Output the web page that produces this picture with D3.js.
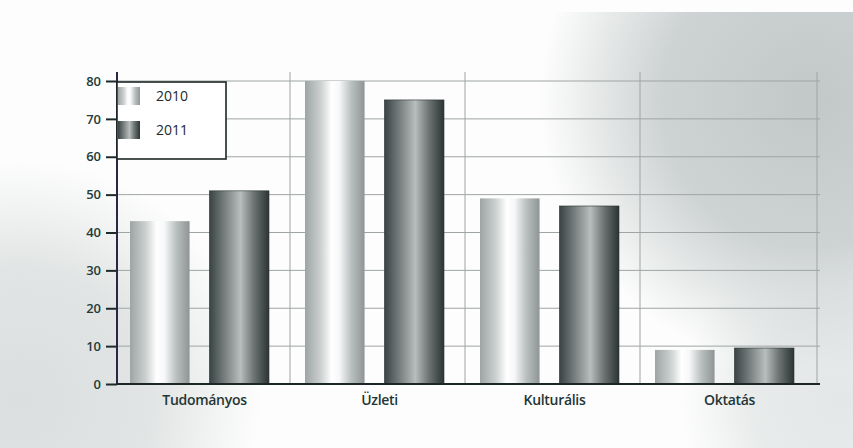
<!DOCTYPE html>
<html>
<head>
<meta charset="utf-8">
<script src="https://cdn.jsdelivr.net/npm/d3@7"></script>
<style>
  body { margin: 0; background: #fff; }
  svg { display: block; }
</style>
</head>
<body>
<div id="chart"></div>
<script>
// survey-style grouped bars, 2010 vs 2011

var categories = ["Tudományos", "Üzleti", "Kulturális", "Oktatás"];
var years = ["2010", "2011"];
var values2010 = [43, 80, 49, 9];
var values2011 = [51, 75, 47, 9.5];
var yTicks = [0, 10, 20, 30, 40, 50, 60, 70, 80];

var W = 853, H = 448;
// plot edges (note: "top" is taken by window.top)
var pLeft = 117, pRight = 817, pTop = 81, pBottom = 384;

var svg = d3.select("#chart").append("svg")
  .attr("width", W).attr("height", H);

var defs = svg.append("defs");

// scanned page: grey smudges top-right and bottom-left
function blob(id, cx, cy, r, col, op) {
  var g = defs.append("radialGradient").attr("id", id)
    .attr("gradientUnits", "userSpaceOnUse")
    .attr("cx", cx).attr("cy", cy).attr("r", r);
  g.append("stop").attr("offset", "0").attr("stop-color", col).attr("stop-opacity", op);
  g.append("stop").attr("offset", "0.55").attr("stop-color", col).attr("stop-opacity", op * 0.8);
  g.append("stop").attr("offset", "1").attr("stop-color", col).attr("stop-opacity", 0);
}
blob("b1", 810, 100, 270, "#bfc5c5", 0.95);
blob("b2", 20, 400, 240, "#d3d7d7", 0.8);
blob("b3", 840, 400, 160, "#d3d8d8", 0.6);

svg.append("rect").attr("width", W).attr("height", H).attr("fill", "#fdfdfd");
svg.append("rect").attr("y", 12).attr("width", W).attr("height", H - 12).attr("fill", "url(#b1)");
svg.append("rect").attr("width", W).attr("height", H).attr("fill", "url(#b2)");
svg.append("rect").attr("width", W).attr("height", H).attr("fill", "url(#b3)");

// cylinder shading for bars
function cylinder(id, stops) {
  var g = defs.append("linearGradient").attr("id", id)
    .attr("x1", "0").attr("x2", "1").attr("y1", "0").attr("y2", "0");
  stops.forEach(function(s) {
    g.append("stop").attr("offset", s[0]).attr("stop-color", s[1]);
  });
}
cylinder("g2010", [[0, "#9ea4a4"], [0.25, "#c9cdcd"], [0.45, "#ffffff"], [0.58, "#f6f7f7"], [0.78, "#b9bebe"], [1, "#8f9595"]]);
cylinder("g2011", [[0, "#3a4343"], [0.22, "#6e7676"], [0.52, "#b8bdbd"], [0.75, "#6a7272"], [1, "#2c3333"]]);

var colorOf = { "2010": "url(#g2010)", "2011": "url(#g2011)" };

var y = d3.scaleLinear().domain([0, 80]).range([pBottom, pTop]);

var x0 = d3.scaleBand().domain(categories).range([pLeft, pRight]).padding(0);
var x1 = d3.scaleBand().domain(years).range([13, 152]).paddingInner(0.25);

// grid
var grid = svg.append("g");
grid.selectAll("line.h").data(yTicks.slice(1)).enter().append("line")
  .attr("x1", pLeft).attr("x2", pRight + 3)
  .attr("y1", function(d) { return y(d); }).attr("y2", function(d) { return y(d); })
  .attr("stroke", "#9fa4a4").attr("stroke-width", 1);
grid.selectAll("line.v").data(categories.slice(1).concat(["end"])).enter().append("line")
  .attr("x1", function(d) { return d == "end" ? pRight : x0(d) - 2; })
  .attr("x2", function(d) { return d == "end" ? pRight : x0(d) - 2; })
  .attr("y1", pTop - 9).attr("y2", pBottom)
  .attr("stroke", "#9fa4a4").attr("stroke-width", 1);

// bars
var rows = categories.map(function(c, i) {
  return { cat: c, vals: [{ year: "2010", v: values2010[i] }, { year: "2011", v: values2011[i] }] };
});

var groups = svg.append("g").selectAll("g").data(rows).enter().append("g")
  .attr("transform", function(d) { return "translate(" + x0(d.cat) + ",0)"; });

groups.selectAll("rect").data(function(d) { return d.vals; }).enter().append("rect")
  .attr("x", function(d) { return x1(d.year); })
  .attr("width", x1.bandwidth())
  .attr("y", function(d) { return y(d.v); })
  .attr("height", function(d) { return pBottom - y(d.v); })
  .attr("fill", function(d) { return colorOf[d.year]; })
  .attr("stroke", function(d) { return d.year == "2011" ? "#2a3232" : "none"; })
  .attr("stroke-width", 0.6);

// axes
var yAxis = d3.axisLeft(y).tickValues(yTicks).tickSize(11).tickPadding(5);
var ya = svg.append("g").attr("transform", "translate(" + pLeft + ",0)").call(yAxis);
ya.select(".domain").remove();
ya.selectAll(".tick line").attr("stroke", "#1d2a2a").attr("stroke-width", 2);
ya.selectAll(".tick text")
  .attr("fill", "#223b3b")
  .style("font-family", "'Open Sans', sans-serif")
  .style("font-size", "13px")
  .style("font-weight", "600");

svg.append("line")
  .attr("x1", pLeft).attr("x2", pLeft).attr("y1", pTop - 9).attr("y2", pBottom + 1)
  .attr("stroke", "#2e2546").attr("stroke-width", 2);

var xAxis = d3.axisBottom(x0).tickSize(0).tickPadding(11);
var xa = svg.append("g").attr("transform", "translate(0," + pBottom + ")").call(xAxis);
xa.select(".domain").remove();
xa.selectAll(".tick text")
  .attr("fill", "#1f3636")
  .style("font-family", "'Open Sans', sans-serif")
  .style("font-size", "14px")
  .style("font-weight", "600")
  .style("letter-spacing", "-0.3px");

svg.append("line")
  .attr("x1", pLeft - 1).attr("x2", pRight + 3).attr("y1", pBottom).attr("y2", pBottom)
  .attr("stroke", "#1d2626").attr("stroke-width", 2);

// legend
var lg = svg.append("g");
lg.append("rect").attr("x", pLeft).attr("y", pTop + 1).attr("width", 109).attr("height", 77)
  .attr("fill", "#ffffff").attr("stroke", "#1d2626").attr("stroke-width", 1.6);
var li = lg.selectAll("g").data(years).enter().append("g")
  .attr("transform", function(d, i) { return "translate(" + (pLeft + 1) + "," + (pTop + 6 + i * 34) + ")"; });
li.append("rect").attr("width", 22).attr("height", 18)
  .attr("fill", function(d) { return colorOf[d]; });
li.append("text").attr("x", 38).attr("y", 14)
  .text(function(d) { return d; })
  .attr("fill", "#222a2a")
  .style("font-family", "'Open Sans', sans-serif")
  .style("font-size", "14px");
</script>
</body>
</html>
